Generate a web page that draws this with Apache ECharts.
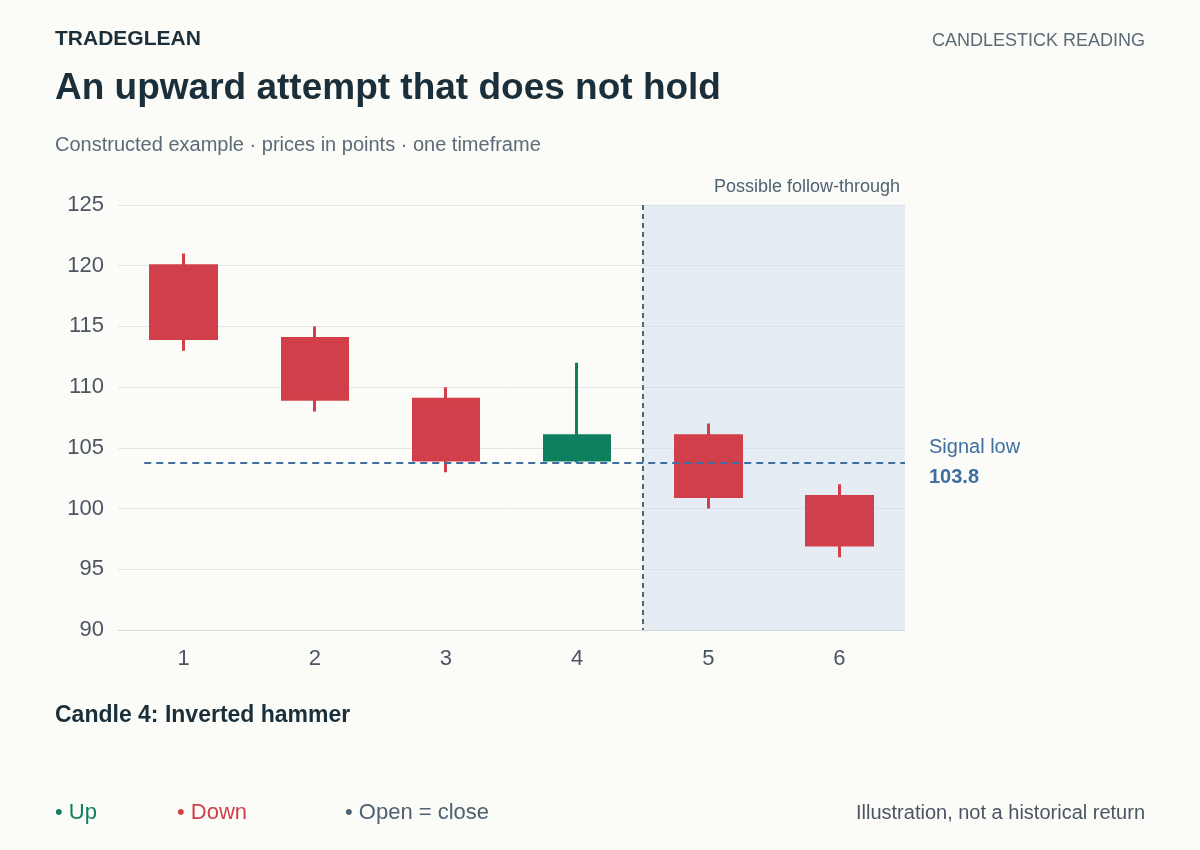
<!DOCTYPE html>
<html><head><meta charset="utf-8">
<script src="https://cdn.jsdelivr.net/npm/echarts@6/dist/echarts.min.js"></script>
<style>html,body{margin:0;background:#fbfbf7}#c{width:1200px;height:850px}</style>
</head><body><div id="c"></div>
<script>
const categories = ['1','2','3','4','5','6'];
// [open, close, low, high]
const candles = [
  [120,114,113,121],
  [114,109,108,115],
  [109,104,103,110],
  [104,106,103.8,112],
  [106,101,100,107],
  [101,97,96,102]
];
const yTicks = [90,95,100,105,110,115,120,125];
const signalLow = 103.8;
const followStart = 4.5, followEnd = 6.5;

const chart = echarts.init(document.getElementById('c'));
const F = '"Liberation Sans", Arial, sans-serif';
chart.setOption({
  backgroundColor:'#fbfbf7',
  animation:false,
  grid:{left:118,right:295,top:205,bottom:220},
  xAxis:[
    {type:'category',data:categories,boundaryGap:true,
     axisLine:{lineStyle:{color:'#d5d9e0'}},axisTick:{show:false},
     axisLabel:{color:'#4b5563',fontSize:22,margin:18,fontFamily:F}},
    {type:'value',min:0.5,max:6.5,show:false}
  ],
  yAxis:{type:'value',min:90,max:125,interval:5,
    axisLine:{show:false},axisTick:{show:false},
    axisLabel:{color:'#4b5563',fontSize:22,margin:14,fontFamily:F,
      formatter:v=>yTicks.includes(v)?v:''},
    splitLine:{lineStyle:{color:'#e2e5ec'}}},
  graphic:[
    {type:'text',left:55,top:29,style:{text:'TRADEGLEAN',fill:'#1b2f3a',font:'bold 21px '+F,letterSpacing:3}},
    {type:'text',right:55,top:32,style:{text:'CANDLESTICK READING',fill:'#5b6b78',font:'18px '+F,letterSpacing:1.8}},
    {type:'text',left:55,top:70,style:{text:'An upward attempt that does not hold',fill:'#1b2f3a',font:'bold 37px '+F}},
    {type:'text',left:55,top:135,style:{text:'Constructed example · prices in points · one timeframe',fill:'#5b6b78',font:'20px '+F}},
    {type:'text',left:55,top:704,style:{text:'Candle 4: Inverted hammer',fill:'#1b2f3a',font:'bold 23px '+F}},
    {type:'text',left:55,top:802,style:{text:'• Up',fill:'#0e8060',font:'22px '+F}},
    {type:'text',left:177,top:802,style:{text:'• Down',fill:'#d1404a',font:'22px '+F}},
    {type:'text',left:345,top:802,style:{text:'• Open = close',fill:'#4f6272',font:'22px '+F}},
    {type:'text',right:55,top:803,style:{text:'Illustration, not a historical return',fill:'#4b5563',font:'20px '+F}}
  ],
  series:[
    {type:'candlestick',data:candles,barWidth:66,
     itemStyle:{color:'#0e8060',color0:'#d1404a',borderColor:'#0e8060',borderColor0:'#d1404a',borderWidth:3}},
    {type:'line',xAxisIndex:1,data:[[1,signalLow]],symbol:'none',silent:true,lineStyle:{opacity:0},
     markArea:{silent:true,itemStyle:{color:'rgba(205,217,240,0.45)'},
       label:{show:true,position:'insideTopRight',offset:[0,-32],color:'#4f6272',fontSize:18,fontFamily:F,formatter:'Possible follow-through'},
       data:[[{coord:[followStart,125]},{coord:[followEnd,90]}]]},
     markLine:{silent:true,symbol:'none',
       data:[
         [{coord:[followStart,125],lineStyle:{color:'#4b5563',type:[5,4],width:1.8},label:{show:false}},{coord:[followStart,90]}],
         [{coord:[0.7,signalLow],lineStyle:{color:'#3f6fa0',type:[7,5],width:1.8},
           label:{show:true,position:'end',distance:24,formatter:'{a|Signal low}\n{b|103.8}',
             rich:{a:{color:'#3f6fa0',fontSize:20,fontFamily:F,lineHeight:30},b:{color:'#3f6fa0',fontSize:20,fontWeight:'bold',fontFamily:F,lineHeight:30}}}},
          {coord:[6.5,signalLow]}]
       ]}}
  ]
});
</script></body></html>
